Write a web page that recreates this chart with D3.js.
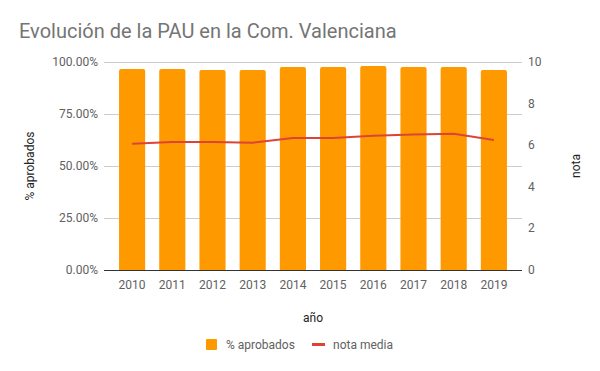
<!DOCTYPE html>
<html>
<head>
<meta charset="utf-8">
<script src="https://cdn.jsdelivr.net/npm/d3@7"></script>
<style>
  body { margin: 0; background: #fff; }
  text { font-family: Roboto, Arial, sans-serif; }
</style>
</head>
<body>
<script>
var years = ["2010", "2011", "2012", "2013", "2014", "2015", "2016", "2017", "2018", "2019"];
var aprobados = [96.6, 96.6, 96.2, 96.2, 97.6, 97.6, 98.1, 97.6, 97.6, 96.2];
var notaMedia = [6.07, 6.15, 6.15, 6.12, 6.35, 6.35, 6.46, 6.51, 6.55, 6.25];
var leftTicks = [0, 25, 50, 75, 100];
var rightTicks = [0, 2, 4, 6, 8, 10];

var width = 600, height = 371;
var svg = d3.select("body").append("svg").attr("width", width).attr("height", height);

var x = d3.scaleBand().domain(years).range([112, 514]).paddingInner(0.35).paddingOuter(0.175);
var yL = d3.scaleLinear().domain([0, 100]).range([270, 62]);
var yR = d3.scaleLinear().domain([0, 10]).range([270, 62]);

// title
svg.append("text").attr("x", 19).attr("y", 38)
  .attr("font-size", 20).attr("fill", "#757575")
  .text("Evolución de la PAU en la Com. Valenciana");

// gridlines
svg.append("g").selectAll("line").data(leftTicks).enter().append("line")
  .attr("x1", 104).attr("x2", 522)
  .attr("y1", function(d){ return yL(d) + 0.5; })
  .attr("y2", function(d){ return yL(d) + 0.5; })
  .attr("stroke", "#cccccc");

// left axis labels
svg.append("g").selectAll("text").data(leftTicks).enter().append("text")
  .attr("x", 98).attr("y", function(d){ return yL(d) + 4; })
  .attr("text-anchor", "end").attr("font-size", 12).attr("fill", "#616161")
  .text(function(d){ return d3.format(".2f")(d) + "%"; });

// right axis labels
svg.append("g").selectAll("text").data(rightTicks).enter().append("text")
  .attr("x", 528).attr("y", function(d){ return yR(d) + 4; })
  .attr("text-anchor", "start").attr("font-size", 12).attr("fill", "#616161")
  .text(function(d){ return d; });

// bars with rounded tops
function barPath(d, i) {
  var x0 = x(years[i]), w = x.bandwidth(), y0 = yL(d), y1 = yL(0), r = 2;
  return "M" + x0 + "," + y1 + "V" + (y0 + r) + "Q" + x0 + "," + y0 + " " + (x0 + r) + "," + y0 +
    "H" + (x0 + w - r) + "Q" + (x0 + w) + "," + y0 + " " + (x0 + w) + "," + (y0 + r) + "V" + y1 + "Z";
}
svg.append("g").selectAll("path").data(aprobados).enter().append("path")
  .attr("d", barPath).attr("fill", "#ff9900");

// baseline
svg.append("line").attr("x1", 104).attr("x2", 522)
  .attr("y1", 270.5).attr("y2", 270.5).attr("stroke", "#333");

// line series
var line = d3.line()
  .x(function(d, i){ return x(years[i]) + x.bandwidth() / 2; })
  .y(function(d){ return yR(d); });
svg.append("path").datum(notaMedia).attr("d", line)
  .attr("fill", "none").attr("stroke", "#db4437").attr("stroke-width", 2);

// x labels
svg.append("g").selectAll("text").data(years).enter().append("text")
  .attr("x", function(d){ return x(d) + x.bandwidth() / 2; }).attr("y", 289)
  .attr("text-anchor", "middle").attr("font-size", 12).attr("fill", "#616161")
  .text(function(d){ return d; });

// axis titles
svg.append("text").attr("x", 313).attr("y", 322).attr("text-anchor", "middle")
  .attr("font-size", 12).attr("fill", "#222").text("año");
svg.append("text").attr("transform", "translate(34,166) rotate(-90)")
  .attr("text-anchor", "middle").attr("font-size", 12).attr("fill", "#222").text("% aprobados");
svg.append("text").attr("transform", "translate(580,166) rotate(-90)")
  .attr("text-anchor", "middle").attr("font-size", 12).attr("fill", "#222").text("nota");

// legend
var leg = svg.append("g");
leg.append("rect").attr("x", 206).attr("y", 339).attr("width", 11).attr("height", 11)
  .attr("rx", 1).attr("fill", "#ff9900");
leg.append("text").attr("x", 226).attr("y", 349).attr("font-size", 12).attr("fill", "#616161").text("% aprobados");
leg.append("line").attr("x1", 312).attr("x2", 325).attr("y1", 344.5).attr("y2", 344.5)
  .attr("stroke", "#db4437").attr("stroke-width", 3);
leg.append("text").attr("x", 333).attr("y", 349).attr("font-size", 12).attr("fill", "#616161").text("nota media");
</script>
</body>
</html>
